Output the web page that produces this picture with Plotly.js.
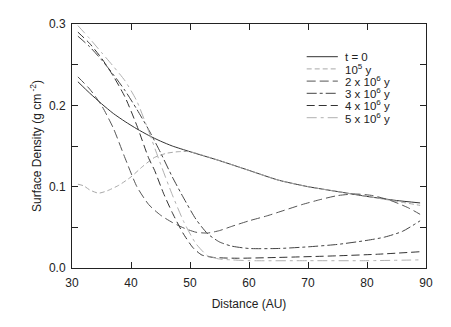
<!DOCTYPE html>
<html>
<head>
<meta charset="utf-8">
<script src="https://cdn.plot.ly/plotly-3.0.1.min.js"></script>
<style>
  body { margin: 0; background: #fff; }
  #chart { width: 451px; height: 327px; }
</style>
</head>
<body>
<div id="chart"></div>
<script>
// radial profiles (AU, g cm^-2)
let x_t0 = [31, 33, 35, 37, 39, 41, 43, 45, 47, 50, 55, 60, 65, 70, 75, 80, 85, 89];
let y_t0 = [0.229, 0.215, 0.202, 0.190, 0.180, 0.171, 0.163, 0.156, 0.150, 0.143, 0.132, 0.120, 0.108, 0.100, 0.094, 0.088, 0.083, 0.080];

let x_1e5 = [31, 32, 33, 34.5, 36, 38, 40, 42, 44, 46, 48, 50, 52, 55, 60, 65, 70, 75, 80, 85, 89];
let y_1e5 = [0.103, 0.101, 0.096, 0.092, 0.095, 0.102, 0.112, 0.125, 0.136, 0.141, 0.143, 0.143, 0.139, 0.132, 0.120, 0.108, 0.100, 0.094, 0.088, 0.082, 0.077];

let x_2e6 = [31, 33, 35, 37, 39, 41, 43, 45, 47, 49, 51, 53, 55, 57, 60, 63, 66, 69, 72, 75, 78, 81, 84, 87, 89];
let y_2e6 = [0.235, 0.220, 0.200, 0.172, 0.135, 0.100, 0.078, 0.065, 0.056, 0.049, 0.044, 0.043, 0.046, 0.051, 0.058, 0.064, 0.071, 0.078, 0.084, 0.089, 0.091, 0.089, 0.083, 0.074, 0.066];

let x_3e6 = [31, 33, 35, 37, 39, 41, 43, 45, 47, 49, 51, 53, 55, 57, 60, 65, 70, 75, 80, 83, 86, 89];
let y_3e6 = [0.285, 0.272, 0.256, 0.238, 0.218, 0.195, 0.170, 0.142, 0.112, 0.085, 0.060, 0.042, 0.032, 0.027, 0.024, 0.024, 0.026, 0.029, 0.034, 0.038, 0.045, 0.058];

let x_4e6 = [31, 33, 35, 37, 39, 41, 43, 44, 45.5, 47, 48.8, 50.5, 52, 54, 58, 65, 75, 82, 89];
let y_4e6 = [0.290, 0.276, 0.258, 0.236, 0.210, 0.175, 0.135, 0.120, 0.092, 0.068, 0.043, 0.025, 0.016, 0.013, 0.012, 0.013, 0.015, 0.017, 0.020];

let x_5e6 = [31, 33, 35, 37, 39, 41, 43, 45, 47, 49, 51, 53, 55, 57, 60, 70, 80, 89];
let y_5e6 = [0.298, 0.282, 0.265, 0.248, 0.230, 0.205, 0.168, 0.128, 0.090, 0.056, 0.030, 0.015, 0.011, 0.010, 0.009, 0.009, 0.009, 0.010];

let labels = ["t = 0", "10<sup>5</sup> y", "2 x 10<sup>6</sup> y", "3 x 10<sup>6</sup> y", "4 x 10<sup>6</sup> y", "5 x 10<sup>6</sup> y"];
let colors = ["#333333", "#a8a8a8", "#555555", "#444444", "#333333", "#b0b0b0"];
let dashes = ["solid", "5px,3px", "9px,4px", "10px,3px,3px,3px", "8px,4px", "10px,4px,3px,4px"];

let xs = [x_t0, x_1e5, x_2e6, x_3e6, x_4e6, x_5e6];
let ys = [y_t0, y_1e5, y_2e6, y_3e6, y_4e6, y_5e6];

let traces = [];
for (let i = 0; i < xs.length; ++i) {
	traces.push({
		type: 'scatter',
		mode: 'lines',
		x: xs[i],
		y: ys[i],
		name: labels[i],
		showlegend: false,
		line: { color: colors[i], width: 1, dash: dashes[i], shape: 'spline', smoothing: 0.6 }
	});
}

// hand-made legend, the rows are tighter than plotly's own
let shapes = [];
let annotations = [];
for (let i = 0; i < labels.length; ++i) {
	let yy = (268 - (56.7 + i * 12.2)) / 244;
	shapes.push({
		type: 'line', xref: 'paper', yref: 'paper',
		x0: 0.663, x1: 0.751, y0: yy, y1: yy,
		line: { color: colors[i], width: 1, dash: dashes[i] }
	});
	annotations.push({
		xref: 'paper', yref: 'paper', x: 0.765, y: yy,
		xanchor: 'left', yanchor: 'middle', showarrow: false,
		text: labels[i], font: { size: 11.5, color: '#222' }
	});
}

let layout = {
	width: 451,
	height: 327,
	margin: { l: 72, r: 25, t: 24, b: 59 },
	paper_bgcolor: '#fff',
	plot_bgcolor: '#fff',
	font: { family: 'Liberation Sans, Arial, sans-serif', size: 12, color: '#222' },
	xaxis: {
		range: [30, 90],
		dtick: 10,
		ticks: 'inside',
		ticklen: 6,
		tickcolor: '#222',
		ticklabelstandoff: 4,
		showgrid: false,
		zeroline: false,
		showline: true,
		linecolor: '#222',
		linewidth: 1,
		mirror: 'allticks',
		automargin: true,
		title: { text: 'Distance (AU)', font: { size: 12 }, standoff: 10 }
	},
	yaxis: {
		range: [0, 0.3],
		dtick: 0.1,
		tickformat: '.1f',
		ticks: 'inside',
		ticklen: 6,
		tickcolor: '#222',
		ticklabelstandoff: 3,
		minor: { dtick: 0.05, ticks: 'inside', ticklen: 6, tickcolor: '#222', showgrid: false },
		showgrid: false,
		zeroline: false,
		showline: true,
		linecolor: '#222',
		linewidth: 1,
		mirror: 'allticks',
		automargin: true,
		title: { text: 'Surface Density (g cm<sup> -2</sup>)', font: { size: 12 }, standoff: 4 }
	},
	shapes: shapes,
	annotations: annotations
};

Plotly.newPlot('chart', traces, layout, { displayModeBar: false, staticPlot: true });
</script>
</body>
</html>
